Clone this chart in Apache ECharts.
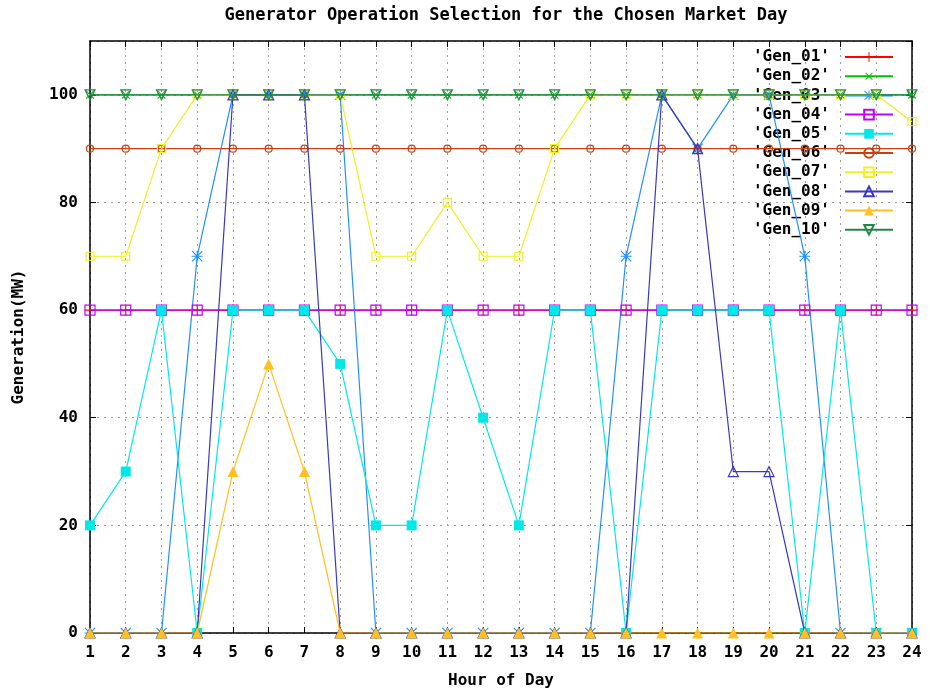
<!DOCTYPE html>
<html>
<head>
<meta charset="utf-8">
<script src="https://cdn.jsdelivr.net/npm/echarts@6/dist/echarts.min.js"></script>
<style>html,body{margin:0;padding:0;background:#fff;}#c{width:930px;height:696px;}</style>
</head>
<body>
<div id="c"></div>
<script>
var hours = [1,2,3,4,5,6,7,8,9,10,11,12,13,14,15,16,17,18,19,20,21,22,23,24];
var seriesNames = ["'Gen_01'","'Gen_02'","'Gen_03'","'Gen_04'","'Gen_05'","'Gen_06'","'Gen_07'","'Gen_08'","'Gen_09'","'Gen_10'"];
var gen01 = [60,60,60,60,60,60,60,60,60,60,60,60,60,60,60,60,60,60,60,60,60,60,60,60];
var gen02 = [100,100,100,100,100,100,100,100,100,100,100,100,100,100,100,100,100,100,100,100,100,100,100,100];
var gen03 = [0,0,0,70,100,100,100,100,0,0,0,0,0,0,0,70,100,90,100,100,70,0,0,0];
var gen04 = [60,60,60,60,60,60,60,60,60,60,60,60,60,60,60,60,60,60,60,60,60,60,60,60];
var gen05 = [20,30,60,0,60,60,60,50,20,20,60,40,20,60,60,0,60,60,60,60,0,60,0,0];
var gen06 = [90,90,90,90,90,90,90,90,90,90,90,90,90,90,90,90,90,90,90,90,90,90,90,90];
var gen07 = [70,70,90,100,100,100,100,100,70,70,80,70,70,90,100,100,100,100,100,100,100,100,100,95];
var gen08 = [0,0,0,0,100,100,100,0,0,0,0,0,0,0,0,0,100,90,30,30,0,0,0,0];
var gen09 = [0,0,0,0,30,50,30,0,0,0,0,0,0,0,0,0,0,0,0,0,0,0,0,0];
var gen10 = [100,100,100,100,100,100,100,100,100,100,100,100,100,100,100,100,100,100,100,100,100,100,100,100];
var yTicks = [0,20,40,60,80,100];

var allData = [gen01,gen02,gen03,gen04,gen05,gen06,gen07,gen08,gen09,gen10];
var colors = ['#ff0000','#00c000','#2090ff','#c000ff','#00e8e8','#c84010','#f0f020','#3838c0','#ffc020','#208848'];
var PLUS = 'path://M9,0h2v9h9v2h-9v9h-2v-9h-9v-2h9z';
var STAR = 'path://M9,0h2v9h9v2h-9v9h-2v-9h-9v-2h9zM1.5,0L20,18.5L18.5,20L0,1.5zM18.5,0L20,1.5L1.5,20L0,18.5z';
var sym = [
  {s: PLUS, size: 11, rot: 0, fill: true},
  {s: PLUS, size: 11, rot: 45, fill: true},
  {s: STAR, size: 11, rot: 0, fill: true},
  {s: 'rect', size: 10, rot: 0, fill: false},
  {s: 'rect', size: 10, rot: 0, fill: true},
  {s: 'circle', size: 7, rot: 0, fill: false},
  {s: 'rect', size: 8, rot: 0, fill: false},
  {s: 'triangle', size: 10, rot: 0, fill: false},
  {s: 'triangle', size: 11, rot: 0, fill: true},
  {s: 'triangle', size: 10, rot: 180, fill: false}
];

var FONT = 'DejaVu Sans Mono';
var series = allData.map(function(d, i){
  var c = colors[i];
  return {
    name: seriesNames[i],
    type: 'line',
    data: d.map(function(v, k){ return [hours[k], v]; }),
    symbol: sym[i].s,
    symbolSize: sym[i].size,
    symbolRotate: sym[i].rot,
    showAllSymbol: true,
    itemStyle: sym[i].fill ? {color: c, borderWidth: 0} : {color: 'rgba(0,0,0,0)', borderColor: c, borderWidth: 1.2},
    lineStyle: {color: c, width: 1.2},
    emphasis: {disabled: true},
    z: 2 + i
  };
});

var chart = echarts.init(document.getElementById('c'), null, {renderer: 'canvas'});
chart.setOption({
  animation: false,
  backgroundColor: '#ffffff',
  title: {
    text: 'Generator Operation Selection for the Chosen Market Day',
    left: 501, textAlign: 'center', top: 2,
    textStyle: {fontFamily: FONT, fontSize: 17, fontWeight: 'bold', color: '#000'}
  },
  legend: {
    orient: 'vertical', right: 31, top: 44, align: 'right',
    itemWidth: 48, itemHeight: 12, itemGap: 3.2,
    data: seriesNames,
    textStyle: {fontFamily: FONT, fontSize: 16, fontWeight: 'bold', color: '#000', padding: [0, 10, 0, 0]},
    inactiveColor: '#000'
  },
  grid: {left: 90, right: 18, top: 41, bottom: 63, containLabel: false, outerBoundsMode: 'none'},
  xAxis: [{
    type: 'value', min: 1, max: 24, interval: 1,
    name: 'Hour of Day', nameLocation: 'middle', nameGap: 40,
    nameTextStyle: {fontFamily: FONT, fontSize: 16, fontWeight: 'bold', color: '#000'},
    axisLine: {show: true, onZero: false, lineStyle: {color: '#000', width: 1.5}},
    axisTick: {show: true, inside: true, length: 6, lineStyle: {color: '#000'}},
    axisLabel: {fontFamily: FONT, fontSize: 16, fontWeight: 'bold', color: '#000', margin: 12},
    splitLine: {show: true, lineStyle: {color: '#999', type: [2, 5], width: 1}}
  }, {
    type: 'value', min: 1, max: 24, interval: 1, position: 'top',
    axisLine: {show: true, onZero: false, lineStyle: {color: '#000', width: 1.5}},
    axisTick: {show: true, inside: true, length: 6, lineStyle: {color: '#000'}},
    axisLabel: {show: false}, splitLine: {show: false}
  }],
  yAxis: [{
    type: 'value', min: 0, max: 110, interval: 20,
    name: 'Generation(MW)', nameLocation: 'middle', nameGap: 63, nameRotate: 90,
    nameTextStyle: {fontFamily: FONT, fontSize: 16, fontWeight: 'bold', color: '#000'},
    axisLine: {show: true, onZero: false, lineStyle: {color: '#000', width: 1.5}},
    axisTick: {show: true, inside: true, length: 6, lineStyle: {color: '#000'}},
    axisLabel: {fontFamily: FONT, fontSize: 16, fontWeight: 'bold', color: '#000', margin: 12, showMaxLabel: false,
      formatter: function(v){ return yTicks.indexOf(v) >= 0 ? String(v) : ''; }},
    splitLine: {show: true, lineStyle: {color: '#999', type: [2, 5], width: 1}}
  }, {
    type: 'value', min: 0, max: 110, interval: 20, position: 'right',
    axisLine: {show: true, onZero: false, lineStyle: {color: '#000', width: 1.5}},
    axisTick: {show: true, inside: true, length: 6, lineStyle: {color: '#000'}},
    axisLabel: {show: false}, splitLine: {show: false}
  }],
  series: series
});
</script>
</body>
</html>
